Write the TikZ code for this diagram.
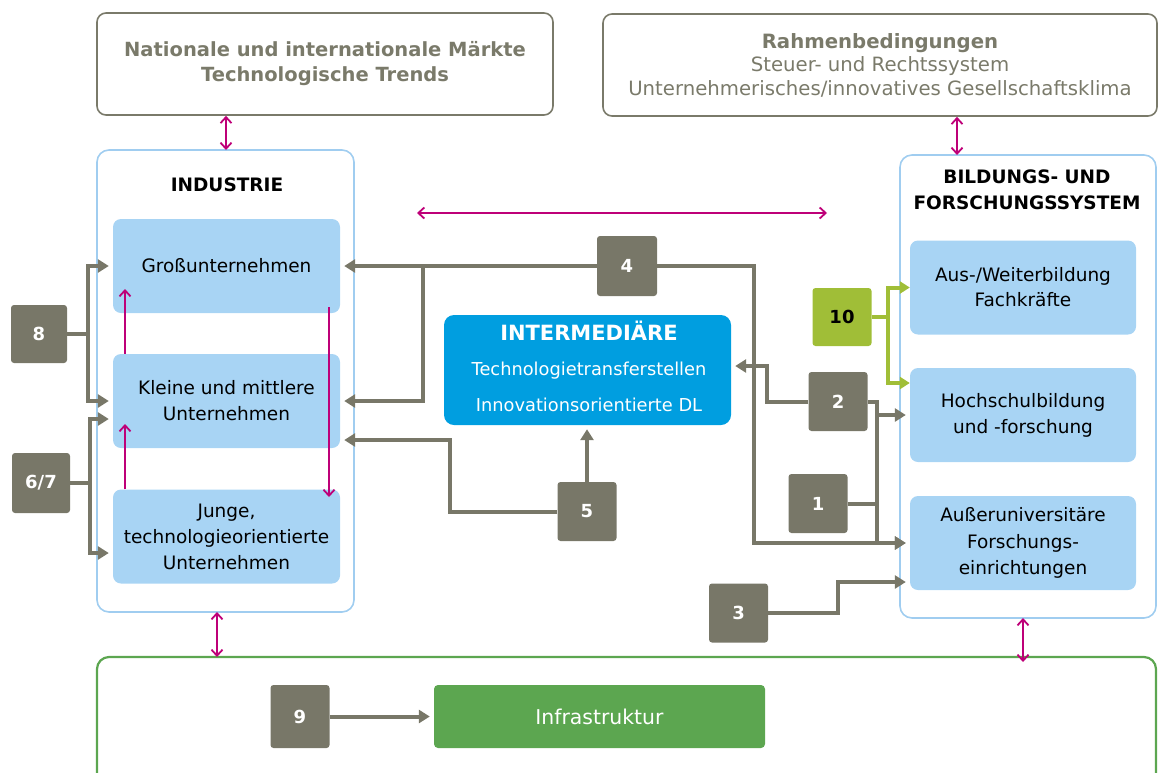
\documentclass[tikz,border=0pt]{standalone}
\usepackage{fontspec}
\setmainfont{DejaVu Sans}
\usetikzlibrary{arrows.meta,calc}
\definecolor{dgray}{RGB}{120,119,104}
\definecolor{tgray}{RGB}{122,122,106}
\definecolor{lblue}{RGB}{168,212,244}
\definecolor{cblue}{RGB}{160,205,240}
\definecolor{iblue}{RGB}{0,158,224}
\definecolor{igreen}{RGB}{92,166,80}
\definecolor{lime}{RGB}{160,190,55}
\definecolor{mag}{RGB}{190,0,120}
\tikzset{
  outerbox/.style={draw=tgray,line width=1.6pt,rounded corners=9pt,minimum width=#1,minimum height=102pt,align=center,text=tgray},
  container/.style={draw=cblue,line width=1.6pt,rounded corners=12pt},
  sub/.style={fill=lblue,rounded corners=8pt,minimum width=227pt,minimum height=94pt,align=center,font=\fontsize{18.5}{26}\selectfont},
  num/.style={fill=dgray,rounded corners=3pt,minimum width=59pt,minimum height=59pt,text=white,font=\bfseries\fontsize{18}{20}\selectfont},
  conn/.style={draw=dgray,line width=4pt},
  carr/.style={conn,-{Triangle[length=11pt,width=13pt]},shorten >=4pt},
  garr/.style={draw=lime,line width=4pt,-{Triangle[length=10pt,width=12pt]}},
  marr/.style={draw=mag,line width=1.8pt,{Straight Barb[length=6pt,width=11pt]}-{Straight Barb[length=6pt,width=11pt]}},
  mone/.style={draw=mag,line width=1.8pt,-{Straight Barb[length=6pt,width=11pt]}},
  title/.style={font=\bfseries\fontsize{18.5}{26}\selectfont,align=center}
}
\begin{document}
\begin{tikzpicture}[x=1pt,y=-1pt]
\useasboundingbox (0,0) rectangle (1158,772);
% bottom container
\begin{scope}
\clip (0,0) rectangle (1158,772);
\draw[draw=igreen,line width=2.2pt,rounded corners=12pt] (97,657) rectangle (1156,800);
\end{scope}
% top boxes
\node[outerbox=456pt,font=\bfseries\fontsize{19.5}{25}\selectfont] (tl) at (325,64) {Nationale und internationale Märkte\\Technologische Trends};
\node[outerbox=554pt,font=\fontsize{19.7}{23.5}\selectfont] (tr) at (880,65) {\textbf{Rahmenbedingungen}\\Steuer- und Rechtssystem\\Unternehmerisches/innovatives Gesellschaftsklima};
% containers
\draw[container] (97,150) rectangle (354,612);
\coordinate (indn) at (226,150);
\coordinate (inds) at (217,612);
\node[title] (indt) at (227,185) {INDUSTRIE};
\draw[container] (900,155) rectangle (1156,618);
\node[title] (bft) at (1027,190) {BILDUNGS- UND\\FORSCHUNGSSYSTEM};
% sub boxes
\node[sub] (gu) at (226.5,266) {Großunternehmen};
\node[sub] (kmu) at (226.5,401) {Kleine und mittlere\\Unternehmen};
\node[sub] (jung) at (226.5,536.5) {Junge,\\technologieorientierte\\Unternehmen};
\node[sub,minimum width=226pt,font=\fontsize{18.5}{25}\selectfont] (aw) at (1023,287.5) {Aus-/Weiterbildung\\Fachkräfte};
\node[sub,minimum width=226pt] (hs) at (1023,415) {Hochschulbildung\\und -forschung};
\node[sub,minimum width=226pt,font=\fontsize{18.5}{26.5}\selectfont] (ae) at (1023,543) {Außeruniversitäre\\Forschungs-\\einrichtungen};
\node[fill=iblue,rounded corners=10pt,minimum width=287pt,minimum height=110pt] (inter) at (587.5,370) {};
\node[text=white,font=\bfseries\fontsize{21}{24}\selectfont] (intt) at (589,331) {INTERMEDIÄRE};
\node[text=white,font=\fontsize{17.8}{36}\selectfont,align=center] (intx) at (589,387) {Technologietransferstellen\\Innovationsorientierte DL};
\node[fill=igreen,rounded corners=4pt,minimum width=331pt,minimum height=63pt,text=white,font=\fontsize{20.4}{22}\selectfont] (infra) at (599.5,716.5) {Infrastruktur};
% number boxes
\node[num,minimum width=56pt,minimum height=58pt] (b8) at (39,334) {8};
\node[num,minimum width=58pt,minimum height=60pt] (b67) at (41,483) {6/7};
\node[num,minimum width=60pt,minimum height=60pt] (b4) at (627,266) {4};
\node[num] (b2) at (838,401.5) {2};
\node[num] (b1) at (818,503.5) {1};
\node[num] (b5) at (587,511.5) {5};
\node[num] (b3) at (738.5,613) {3};
\node[num,minimum height=63pt] (b9) at (300,716.5) {9};
\node[num,fill=lime,text=black,minimum height=58pt] (b10) at (842,317) {10};
% gray connectors
\coordinate (j8) at (88,334);
\draw[conn] (b8.east) -- (j8);
\draw[carr] (j8) |- (gu.west);
\draw[carr] (j8) |- (kmu.west);
\coordinate (j67) at (90,483);
\draw[conn] (b67.east) -- (j67);
\draw[carr] (j67) |- ($(kmu.west)+(0,18)$);
\draw[carr] (j67) |- ($(jung.west)+(0,16.5)$);
\coordinate (j4) at (423,266);
\draw[carr] (b4.west) -- (gu.east);
\draw[carr] (j4) |- (kmu.east);
\coordinate (k4a) at (754,266);
\coordinate (k4) at (754,543);
\draw[carr] (b4.east) -- (k4a) -- (k4) -- (ae.west);
\coordinate (k2a) at (767,401.5);
\coordinate (k2b) at (767,366);
\draw[carr] (b2.west) -- (k2a) -- (k2b) -- (inter.east |- k2b);
\coordinate (r2) at (877,401.5);
\coordinate (r2b) at (877,543);
\draw[carr] (b2.east) -- (r2) -- (r2b) -- (ae.west);
\draw[carr] (877,415) -- (hs.west);
\draw[conn] (b1.east) -- (877,503.5);
\coordinate (k5a) at (450,511.5);
\coordinate (k5b) at (450,440);
\draw[carr] (b5.west) -- (k5a) -- (k5b) -- (kmu.east |- k5b);
\draw[carr] (b5.north) -- (b5.north |- inter.south);
\coordinate (k3a) at (838,613);
\coordinate (k3b) at (838,582);
\draw[carr] (b3.east) -- (k3a) -- (k3b) -- (ae.west |- k3b);
\draw[carr] (b9.east) -- (infra.west);
% lime connectors
\coordinate (j10) at (888,317);
\draw[draw=lime,line width=4pt] (b10.east) -- (j10);
\draw[garr] (j10) |- (aw.west);
\draw[garr] (j10) |- ($(hs.west)+(0,-32)$);
% magenta arrows
\draw[marr] (tl.south -| indn) -- (indn);
\draw[marr] (tr.south -| 957,0) -- (957,155);
\draw[marr] (417,213) -- (827,213);
\draw[marr] (inds) -- (217,657);
\draw[marr] (1023,618) -- (1023,662);
\draw[mone] (kmu.north -| 125,0) -- (125,289);
\draw[mone] (jung.north -| 125,0) -- (125,424);
\draw[mone] (329,307) -- (329,497);
\end{tikzpicture}
\end{document}
